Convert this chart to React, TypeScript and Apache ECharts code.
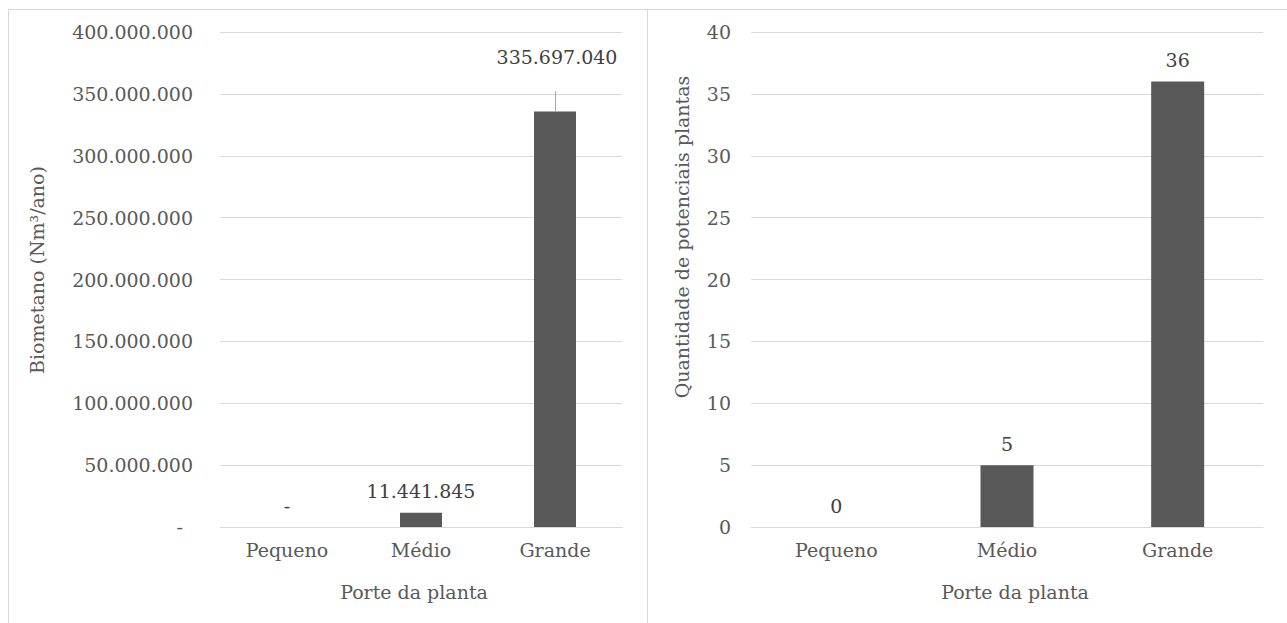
import React, { useEffect, useRef } from "react";
import * as echarts from "echarts";

const categories = ["Pequeno", "Médio", "Grande"];
const biometano = [0, 11441845, 335697040];
const plantas = [0, 5, 36];
const leftTicks = { min: 0, max: 400000000, interval: 50000000 };
const rightTicks = { min: 0, max: 40, interval: 5 };
const leftYName = "Biometano (Nm³/ano)";
const rightYName = "Quantidade de potenciais plantas";
const xName = "Porte da planta";
// end of the leader line above the largest bar (value units)
const leaderTop = 352000000;

const FONT = "DejaVu Serif";
const FS = 19;
const AXIS_COLOR = "#595959";
const LABEL_COLOR = "#404040";
const GRID_COLOR = "#d9d9d9";

function fmtBR(n: number): string {
  if (n === 0) return "-";
  return Math.round(n)
    .toString()
    .replace(/\B(?=(\d{3})+(?!\d))/g, ".");
}

export default function App() {
  const ref = useRef<HTMLDivElement>(null);
  useEffect(() => {
    if (!ref.current) return;
    const chart = echarts.init(ref.current, null, { renderer: "svg" });
    const textBase = { fontFamily: FONT, fontSize: FS, color: AXIS_COLOR };
    const catAxis = (gridIndex: number) => ({
      type: "category",
      gridIndex,
      data: categories,
      axisLine: { show: true, lineStyle: { color: GRID_COLOR, width: 1 } },
      axisTick: { show: false },
      axisLabel: { ...textBase, margin: 13 },
    });
    const maxIdx = biometano.indexOf(Math.max(...biometano));
    const option: any = {
      animation: false,
      backgroundColor: "#ffffff",
      textStyle: { fontFamily: FONT, fontSize: FS },
      grid: [
        { left: 220, right: 665, top: 32, bottom: 96 },
        { left: 751, right: 24, top: 32, bottom: 96 },
      ],
      xAxis: [catAxis(0), catAxis(1)],
      yAxis: [
        {
          type: "value",
          gridIndex: 0,
          ...leftTicks,
          axisLine: { show: false },
          axisTick: { show: false },
          splitLine: { lineStyle: { color: GRID_COLOR, width: 1 } },
          axisLabel: {
            ...textBase,
            margin: 27,
            formatter: (v: number) => (v === 0 ? "{d|-}" : fmtBR(v)),
            rich: { d: { ...textBase, padding: [0, 10, 0, 0] } },
          },
        },
        {
          type: "value",
          gridIndex: 1,
          ...rightTicks,
          axisLine: { show: false },
          axisTick: { show: false },
          splitLine: { lineStyle: { color: GRID_COLOR, width: 1 } },
          axisLabel: { ...textBase, margin: 20 },
        },
      ],
      series: [
        {
          type: "bar",
          xAxisIndex: 0,
          yAxisIndex: 0,
          data: biometano,
          barWidth: 42,
          itemStyle: { color: "#595959" },
          label: {
            show: true,
            position: "top",
            distance: 12,
            fontFamily: FONT,
            fontSize: FS,
            color: LABEL_COLOR,
            formatter: (p: any) => fmtBR(p.value),
          },
          labelLayout: (p: any) =>
            p.dataIndex === maxIdx ? { dy: -33, dx: 2 } : {},
          markLine: {
            silent: true,
            symbol: "none",
            label: { show: false },
            lineStyle: { color: "#a6a6a6", width: 1, type: "solid" },
            data: [
              [
                { coord: [maxIdx, biometano[maxIdx]] },
                { coord: [maxIdx, leaderTop] },
              ],
            ],
          },
        },
        {
          type: "bar",
          xAxisIndex: 1,
          yAxisIndex: 1,
          data: plantas,
          barWidth: 53,
          itemStyle: { color: "#595959" },
          label: {
            show: true,
            position: "top",
            distance: 12,
            fontFamily: FONT,
            fontSize: FS,
            color: LABEL_COLOR,
          },
        },
      ],
      graphic: [
        {
          type: "rect",
          shape: { x: 8.5, y: 9.5, width: 639, height: 700 },
          style: { fill: "none", stroke: GRID_COLOR, lineWidth: 1 },
          silent: true,
        },
        {
          type: "rect",
          shape: { x: 647.5, y: 9.5, width: 700, height: 700 },
          style: { fill: "none", stroke: GRID_COLOR, lineWidth: 1 },
          silent: true,
        },
        {
          type: "text",
          x: 37,
          y: 270,
          rotation: Math.PI / 2,
          style: {
            text: leftYName,
            fontFamily: FONT,
            fontSize: FS,
            fill: AXIS_COLOR,
            align: "center",
            verticalAlign: "middle",
          },
        },
        {
          type: "text",
          x: 682,
          y: 237,
          rotation: Math.PI / 2,
          style: {
            text: rightYName,
            fontFamily: FONT,
            fontSize: FS,
            fill: AXIS_COLOR,
            align: "center",
            verticalAlign: "middle",
          },
        },
        {
          type: "text",
          x: 414,
          y: 592,
          style: {
            text: xName,
            fontFamily: FONT,
            fontSize: FS,
            fill: AXIS_COLOR,
            align: "center",
            verticalAlign: "middle",
          },
        },
        {
          type: "text",
          x: 1015,
          y: 592,
          style: {
            text: xName,
            fontFamily: FONT,
            fontSize: FS,
            fill: AXIS_COLOR,
            align: "center",
            verticalAlign: "middle",
          },
        },
      ],
    };
    chart.setOption(option);
    return () => chart.dispose();
  }, []);
  return (
    <div
      ref={ref}
      style={{ position: "absolute", left: 0, top: 0, width: 1287, height: 623 }}
    />
  );
}
